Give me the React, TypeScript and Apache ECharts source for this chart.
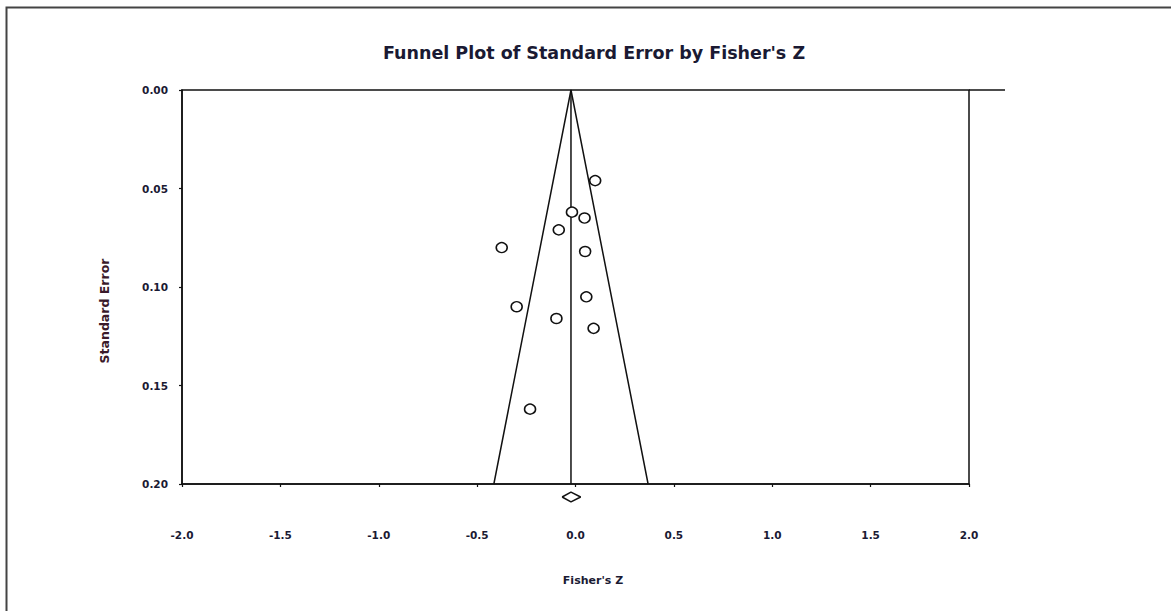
import React, { useEffect, useRef } from "react";
import * as echarts from "echarts";

const titleText = "Funnel Plot of Standard Error by Fisher's Z";
const xAxisTitle = "Fisher's Z";
const yAxisTitle = "Standard Error";

// Studies (Fisher's Z, standard error)
const fisherZ = [0.1, -0.018, 0.046, -0.085, -0.375, 0.049, -0.299, 0.055, -0.097, 0.092, -0.231];
const stdErr = [0.046, 0.062, 0.065, 0.071, 0.08, 0.082, 0.11, 0.105, 0.116, 0.121, 0.162];

// Pooled estimate and its confidence interval (diamond)
const pooledZ = -0.023;
const pooledLower = -0.068;
const pooledUpper = 0.026;
const diamondSE = 0.2066;
const diamondHalfHeight = 0.0025;

const seMax = 0.2;
const zCrit = 1.96;

const xMin = -2;
const xMax = 2;
const xInterval = 0.5;
const yMin = 0;
const yInterval = 0.05;

export default function App() {
  const ref = useRef<HTMLDivElement>(null);

  useEffect(() => {
    document.body.style.margin = "0";
    const chart = echarts.init(ref.current!, null, { renderer: "svg" });

    const points = fisherZ.map((z, i) => [z, stdErr[i]]);
    const funnel = [
      [pooledZ - zCrit * seMax, seMax],
      [pooledZ, 0],
      [pooledZ + zCrit * seMax, seMax],
    ];
    const centerLine = [
      [pooledZ, 0],
      [pooledZ, seMax],
    ];
    const diamond = [
      [pooledLower, diamondSE],
      [pooledZ, diamondSE - diamondHalfHeight],
      [pooledUpper, diamondSE],
      [pooledZ, diamondSE + diamondHalfHeight],
      [pooledLower, diamondSE],
    ];

    const font = "'DejaVu Sans', Verdana, sans-serif";
    const textColor = "#1a1a33";

    chart.setOption({
      animation: false,
      backgroundColor: "#ffffff",
      grid: {
        left: 182,
        top: 90,
        width: 787,
        height: 394,
        show: true,
        borderColor: "#111",
        borderWidth: 1.5,
        backgroundColor: "transparent",
      },
      xAxis: {
        type: "value",
        min: xMin,
        max: xMax,
        interval: xInterval,
        splitLine: { show: false },
        axisLine: { show: true, onZero: false, lineStyle: { color: "#111", width: 1.5 } },
        axisTick: { show: true, length: 3, lineStyle: { color: "#111", width: 1.2 } },
        axisLabel: {
          margin: 45,
          fontSize: 10.5,
          fontWeight: "bold",
          fontFamily: font,
          color: textColor,
          formatter: (v: number) => v.toFixed(1),
        },
      },
      yAxis: {
        type: "value",
        inverse: true,
        min: yMin,
        max: seMax,
        interval: yInterval,
        splitLine: { show: false },
        axisLine: { show: true, onZero: false, lineStyle: { color: "#111", width: 1.5 } },
        axisTick: { show: true, length: 3, lineStyle: { color: "#111", width: 1.2 } },
        axisLabel: {
          margin: 14,
          fontSize: 10.5,
          fontWeight: "bold",
          fontFamily: font,
          color: textColor,
          formatter: (v: number) => v.toFixed(2),
        },
      },
      graphic: [
        {
          type: "rect",
          shape: { x: 6.5, y: 7.5, width: 1300, height: 800 },
          style: { fill: "none", stroke: "#444", lineWidth: 2 },
          silent: true,
        },
        {
          type: "line",
          shape: { x1: 969, y1: 90, x2: 1005, y2: 90 },
          style: { stroke: "#111", lineWidth: 1.5 },
          silent: true,
        },
        {
          type: "text",
          x: 594,
          y: 53,
          style: {
            text: titleText,
            fontSize: 17.5,
            fontWeight: "bold",
            fontFamily: font,
            fill: textColor,
            align: "center",
            verticalAlign: "middle",
          },
        },
        {
          type: "text",
          x: 593,
          y: 580,
          style: {
            text: xAxisTitle,
            fontSize: 11,
            fontWeight: "bold",
            fontFamily: font,
            fill: textColor,
            align: "center",
            verticalAlign: "middle",
          },
        },
        {
          type: "text",
          x: 104,
          y: 311,
          rotation: Math.PI / 2,
          style: {
            text: yAxisTitle,
            fontSize: 12.5,
            fontWeight: "bold",
            fontFamily: font,
            fill: "#3a1a2a",
            align: "center",
            verticalAlign: "middle",
          },
        },
      ],
      series: [
        {
          type: "line",
          data: funnel,
          symbol: "none",
          lineStyle: { color: "#111", width: 1.5 },
          clip: false,
          z: 2,
        },
        {
          type: "line",
          data: centerLine,
          symbol: "none",
          lineStyle: { color: "#111", width: 1.5 },
          clip: false,
          z: 2,
        },
        {
          type: "line",
          data: diamond,
          symbol: "none",
          lineStyle: { color: "#111", width: 1.5 },
          clip: false,
          z: 3,
        },
        {
          type: "scatter",
          data: points,
          symbol: "circle",
          symbolSize: [11, 10],
          itemStyle: { color: "#ffffff", borderColor: "#111", borderWidth: 1.5, opacity: 1 },
          z: 4,
        },
      ],
    });

    return () => chart.dispose();
  }, []);

  return <div ref={ref} style={{ width: 1171, height: 611 }} />;
}
